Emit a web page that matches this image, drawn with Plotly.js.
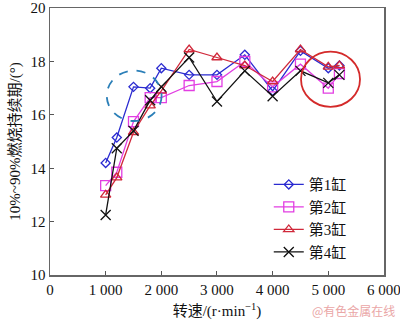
<!DOCTYPE html>
<html><head><meta charset="utf-8">
<script src="https://cdn.plot.ly/plotly-3.0.1.min.js"></script>
<style>html,body{margin:0;padding:0;background:#fff}#chart{width:400px;height:324px}</style>
</head><body><div id="chart"></div>
<script>
const speed = [1000,1200,1500,1800,2000,2500,3000,3500,4000,4500,5000,5200];
const cyl1 = [14.2,15.15,17.05,17.0,17.75,17.5,17.5,18.25,16.9,18.4,17.75,17.85];
const cyl2 = [13.35,13.85,15.75,16.65,16.65,17.1,17.25,18.0,17.05,17.9,17.0,17.55];
const cyl3 = [13.0,13.65,15.35,16.35,16.9,18.45,18.15,17.85,17.25,18.45,17.8,17.85];
const cyl4 = [12.25,14.75,15.4,16.55,17.05,18.15,16.5,17.65,16.7,17.65,17.2,17.5];
const names = ['第1缸','第2缸','第3缸','第4缸'];
const xTickVals = [0,1000,2000,3000,4000,5000,6000];
const xTickText = ['0','1 000','2 000','3 000','4 000','5 000','6 000'];
const yTickVals = [10,12,14,16,18,20];

const serif = 'Liberation Serif, Times New Roman, Noto Sans CJK SC, serif';
const traces = [
  {y: cyl1, name: names[0], color: '#2a2ad0', symbol: 'diamond-open', size: 7},
  {y: cyl2, name: names[1], color: '#e23ee2', symbol: 'square-open', size: 10},
  {y: cyl3, name: names[2], color: '#d0283a', symbol: 'triangle-up-open', size: 9},
  {y: cyl4, name: names[3], color: '#111111', symbol: 'x-thin-open', size: 10}
].map(t => ({
  x: speed, y: t.y, name: t.name, type: 'scatter', mode: 'lines+markers',
  line: {color: t.color, width: 1.3},
  marker: {symbol: t.symbol, size: t.size, color: t.color, line: {color: t.color, width: 1.3}}
}));

const layout = {
  width: 400, height: 324,
  margin: {l: 50, r: 16, t: 8, b: 49},
  paper_bgcolor: '#fff', plot_bgcolor: '#fff',
  font: {family: serif, size: 15, color: '#111'},
  showlegend: true,
  legend: {x: 0.655, y: 0.4, xanchor: 'left', yanchor: 'top', bgcolor: 'rgba(0,0,0,0)',
           font: {family: serif, size: 15, color: '#111'}, tracegroupgap: 0},
  xaxis: {range: [0, 6001], tickvals: xTickVals, ticktext: xTickText, ticklabeloverflow: 'allow',
          ticks: 'inside', ticklen: 4, tickcolor: '#555', showgrid: false, zeroline: false,
          showline: true, linecolor: '#666', linewidth: 1.5, mirror: true,
          tickfont: {family: serif, size: 15, color: '#111'},
          title: {text: '转速/(r·min<sup>−1</sup>)', font: {family: serif, size: 15, color: '#111'}, standoff: 9}},
  yaxis: {range: [10, 20.005], tickvals: yTickVals, ticklabeloverflow: 'allow',
          ticks: 'inside', ticklen: 4, tickcolor: '#555', showgrid: false, zeroline: false,
          showline: true, linecolor: '#666', linewidth: 1.5, mirror: true,
          tickfont: {family: serif, size: 15, color: '#111'},
          title: {text: '10%~90%燃烧持续期/(°)', font: {family: serif, size: 15, color: '#111'}, standoff: 6}},
  shapes: [
    {type: 'circle', xref: 'x', yref: 'y', x0: 1020, x1: 2005, y0: 15.77, y1: 17.66,
     line: {color: '#2b7fb8', width: 1.8, dash: 'dash'}},
    {type: 'circle', xref: 'x', yref: 'y', x0: 4510, x1: 5570, y0: 16.3, y1: 18.37,
     line: {color: '#d42a2a', width: 1.8}}
  ],
  annotations: [
    {text: '@有色金属在线', xref: 'paper', yref: 'paper', x: 1.04, y: -0.095,
     xanchor: 'right', yanchor: 'top', showarrow: false,
     font: {family: 'Noto Sans CJK SC, sans-serif', size: 12, color: '#eaa6a6'}}
  ]
};
Plotly.newPlot('chart', traces, layout, {displayModeBar: false, staticPlot: true});
</script></body></html>
